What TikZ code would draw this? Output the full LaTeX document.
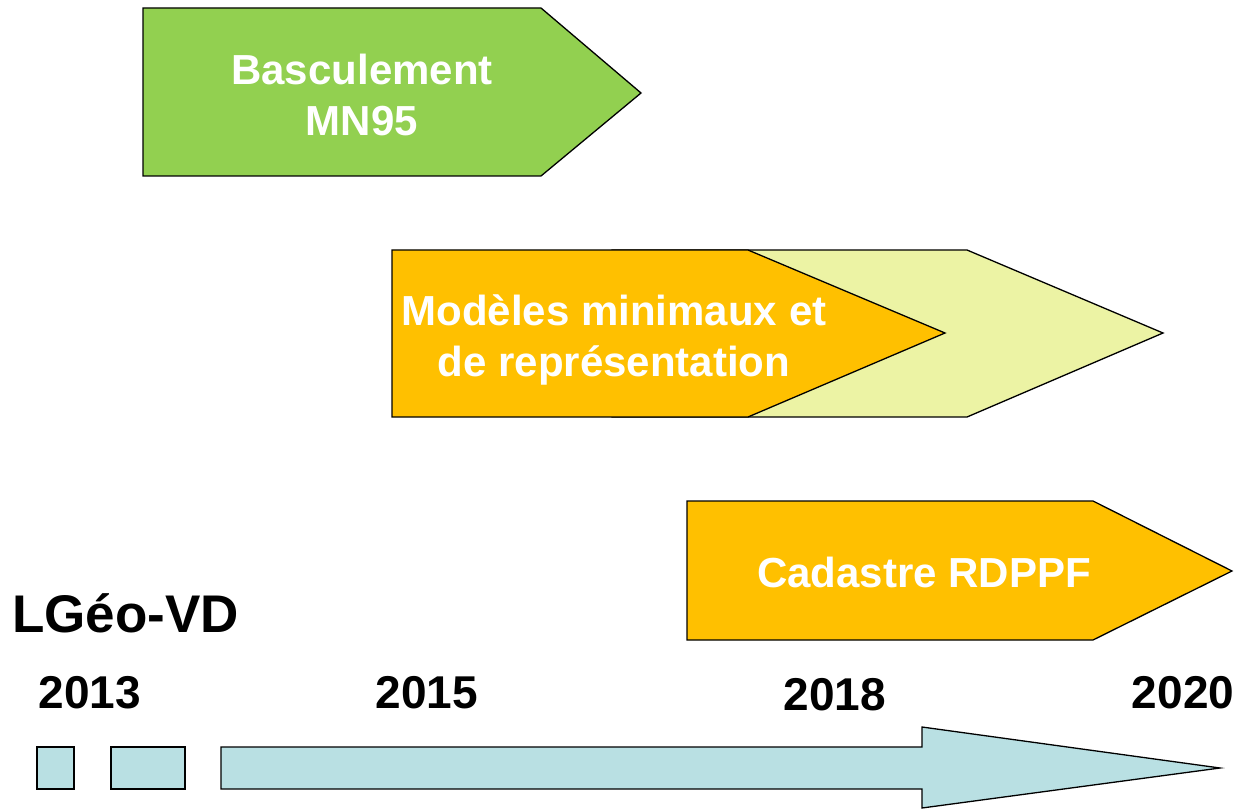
\documentclass[tikz,border=0pt]{standalone}
\usepackage{fontspec}
\setmainfont{Liberation Sans}
\definecolor{cgreen}{HTML}{92D050}
\definecolor{corange}{HTML}{FFC000}
\definecolor{clight}{HTML}{ECF3A4}
\definecolor{cblue}{HTML}{B9E0E3}
\tikzset{
  shp/.style={draw=black, line width=1.3pt, line join=miter},
  boxtext/.style={text=white, font=\bfseries\fontsize{42}{51}\selectfont, align=center, inner sep=0pt},
  yeartext/.style={text=black, font=\bfseries\fontsize{46}{55}\selectfont, inner sep=0pt, anchor=base},
}
\begin{document}
\begin{tikzpicture}[x=1pt,y=-1pt]
\useasboundingbox (0,0) rectangle (1241,810);
% green arrow
\draw[shp, fill=cgreen] (143,8) -- (541,8) -- (641,93) -- (541,176) -- (143,176) -- cycle;
\node[boxtext] (bascul) at (362,95) {Basculement\\MN95};
% light arrow behind
\draw[shp, fill=clight] (612,250) -- (967,250) -- (1163,333) -- (967,417) -- (612,417) -- cycle;
% orange arrow
\draw[shp, fill=corange] (392,250) -- (748,250) -- (945,333) -- (748,417) -- (392,417) -- cycle;
\node[boxtext] (modeles) at (614,340) {Modèles minimaux et\\de représentation};
% cadastre
\draw[shp, fill=corange] (687,501) -- (1093,501) -- (1232,571) -- (1093,640) -- (687,640) -- cycle;
\node[boxtext, anchor=base] (cadastre) at (924,587) {Cadastre RDPPF};
% title
\node[text=black, font=\bfseries\fontsize{53}{62}\selectfont, inner sep=0pt, anchor=base west] (lgeo) at (12,632) {LGéo-VD};
% years
\node[yeartext] (y2013) at (90,708) {2013};
\node[yeartext] (y2015) at (427,708) {2015};
\node[yeartext] (y2018) at (835,710) {2018};
\node[yeartext] (y2020) at (1183,708) {2020};
% timeline
\draw[shp, fill=cblue] (37,747) rectangle (74,789);
\draw[shp, fill=cblue] (111,747) rectangle (185,789);
\draw[shp, fill=cblue] (221,747) -- (922,747) -- (922,727) -- (1220,768) -- (922,808) -- (922,789) -- (221,789) -- cycle;
\end{tikzpicture}
\end{document}
